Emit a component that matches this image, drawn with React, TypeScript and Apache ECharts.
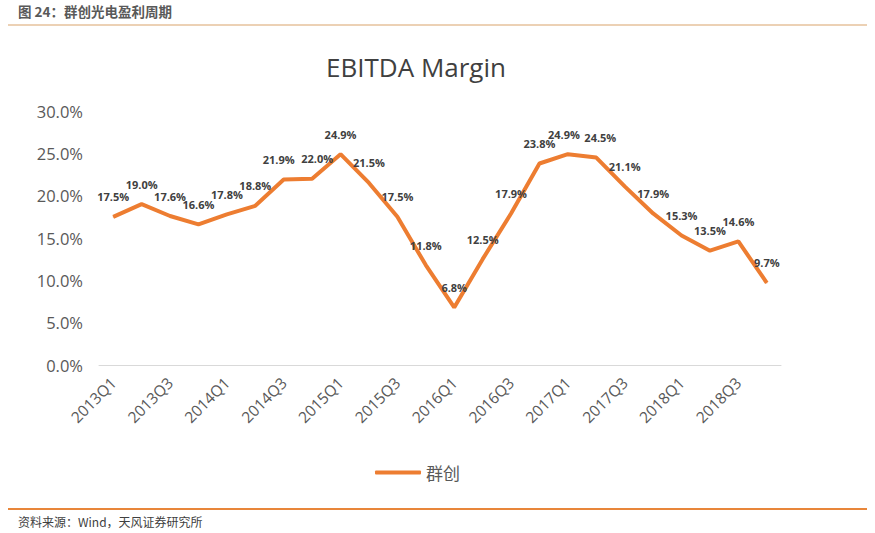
import React, { useEffect, useRef } from "react";
import * as echarts from "echarts";

const categories = [
  "2013Q1", "2013Q2", "2013Q3", "2013Q4",
  "2014Q1", "2014Q2", "2014Q3", "2014Q4",
  "2015Q1", "2015Q2", "2015Q3", "2015Q4",
  "2016Q1", "2016Q2", "2016Q3", "2016Q4",
  "2017Q1", "2017Q2", "2017Q3", "2017Q4",
  "2018Q1", "2018Q2", "2018Q3", "2018Q4",
];
const margin = [
  17.5, 19.0, 17.6, 16.6, 17.8, 18.8, 21.9, 22.0,
  24.9, 21.5, 17.5, 11.8, 6.8, 12.5, 17.9, 23.8,
  24.9, 24.5, 21.1, 17.9, 15.3, 13.5, 14.6, 9.7,
];
const seriesName = "群创";
const chartTitle = "EBITDA Margin";
const headerText = "图 24：群创光电盈利周期";
const footerText = "资料来源：Wind，天风证券研究所";

export default function App() {
  const ref = useRef<HTMLDivElement>(null);
  useEffect(() => {
    if (!ref.current) return;
    const chart = echarts.init(ref.current, null, { renderer: "svg" });
    const font = "'Open Sans', 'Noto Sans CJK SC', sans-serif";
    // nudge a few crowded labels apart horizontally
    const nudges: Record<number, number> = { 6: -5, 7: 5, 16: -4, 17: 4 };
    chart.setOption({
      animation: false,
      backgroundColor: "#ffffff",
      textStyle: { fontFamily: font },
      title: {
        text: chartTitle,
        left: 411,
        textAlign: "center",
        top: 49,
        textStyle: { fontSize: 26, fontWeight: "normal", color: "#404040", fontFamily: font },
      },
      graphic: [
        {
          type: "text",
          left: 18,
          top: 4,
          style: { text: headerText, fontSize: 13.5, fontWeight: "bold", fill: "#595959", fontFamily: "'Noto Sans CJK SC', sans-serif" },
        },
        {
          type: "line",
          shape: { x1: 8, y1: 25, x2: 867, y2: 25 },
          style: { stroke: "#d9a36a", lineWidth: 1 },
        },
        {
          type: "line",
          shape: { x1: 8, y1: 509, x2: 867, y2: 509 },
          style: { stroke: "#e8863a", lineWidth: 2 },
        },
        {
          type: "text",
          left: 18,
          top: 515,
          style: { text: footerText, fontSize: 12, fill: "#404040", fontFamily: "'Noto Sans CJK SC', sans-serif" },
        },
      ],
      legend: {
        data: [seriesName],
        left: 370,
        top: 459,
        itemWidth: 46,
        itemHeight: 4,
        itemGap: 2,
        icon: "roundRect",
        textStyle: { fontSize: 17, color: "#595959", fontFamily: "'Noto Sans CJK SC', sans-serif" },
      },
      grid: { left: 99, right: 94, top: 111, bottom: 168 },
      xAxis: {
        type: "category",
        data: categories,
        boundaryGap: true,
        axisLine: { lineStyle: { color: "#d9d9d9", width: 1 } },
        axisTick: { show: false },
        axisLabel: {
          interval: 1,
          rotate: 45,
          fontSize: 15.5,
          color: "#595959",
          margin: 15,
          fontFamily: font,
        },
      },
      yAxis: {
        type: "value",
        min: 0,
        max: 30,
        interval: 5,
        splitLine: { show: false },
        axisLine: { show: false },
        axisTick: { show: false },
        axisLabel: {
          formatter: (v: number) => v.toFixed(1) + "%",
          fontSize: 16.5,
          color: "#595959",
          margin: 16,
          fontFamily: font,
        },
      },
      series: [
        {
          name: seriesName,
          type: "line",
          data: margin,
          symbol: "circle",
          symbolSize: 1,
          showSymbol: true,
          lineStyle: { color: "#ed7d31", width: 4 },
          itemStyle: { color: "#ed7d31" },
          labelLayout: (p: any) => ({
            hideOverlap: false,
            dx: nudges[p.dataIndex] || 0,
          }),
          label: {
            show: true,
            position: "top",
            distance: 14,
            formatter: (p: any) => Number(p.value).toFixed(1) + "%",
            fontSize: 11,
            fontWeight: "bold",
            color: "#404040",
            fontFamily: font,
          },
        },
      ],
    });
    return () => chart.dispose();
  }, []);
  return (
    <div
      ref={ref}
      style={{ position: "fixed", left: 0, top: 0, width: 875, height: 533 }}
    />
  );
}
